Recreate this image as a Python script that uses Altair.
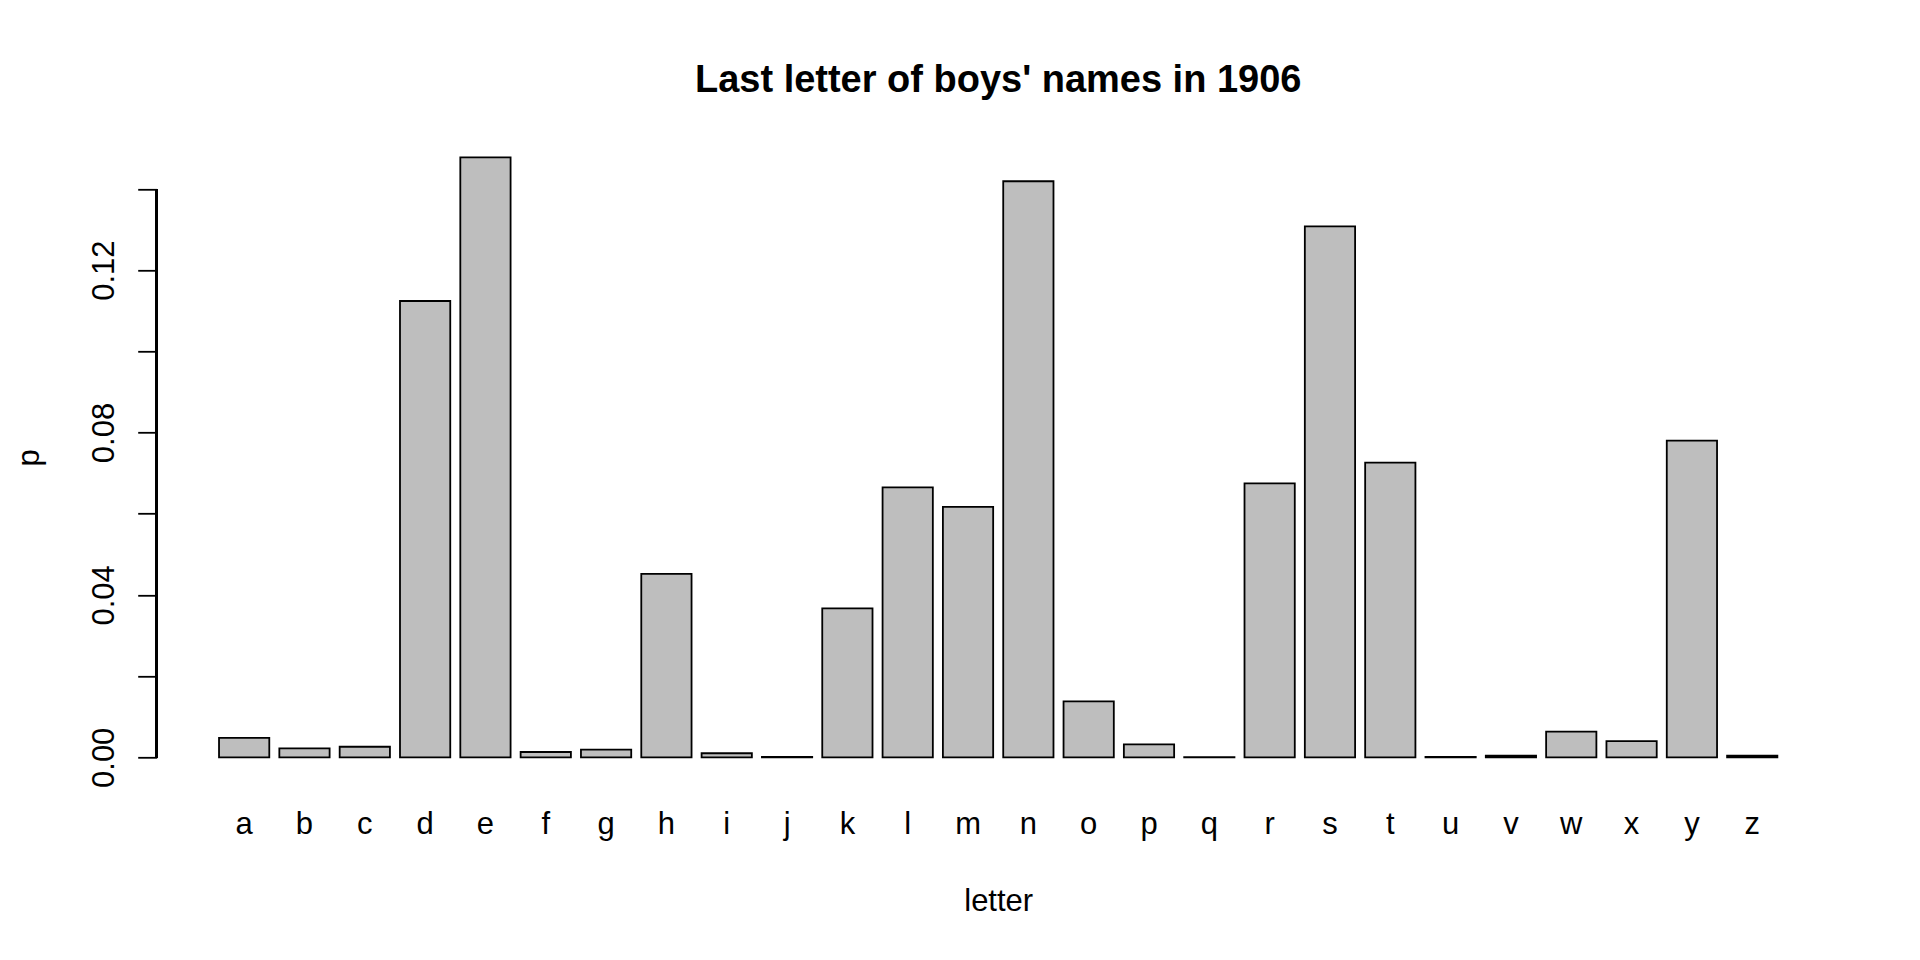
import altair as alt
import pandas as pd

letters = list("abcdefghijklmnopqrstuvwxyz")
p_values = [0.0048, 0.0022, 0.0026, 0.1124, 0.1478, 0.0013, 0.0019, 0.0452,
            0.0010, 0.0001, 0.0367, 0.0665, 0.0617, 0.1419, 0.0138, 0.0032,
            0.00005, 0.0675, 0.1308, 0.0726, 0.0001, 0.0004, 0.0063, 0.0040,
            0.0780, 0.0004]
y_ticks = [0.0, 0.02, 0.04, 0.06, 0.08, 0.10, 0.12, 0.14]
title_text = "Last letter of boys' names in 1906"

df = pd.DataFrame({"letter": letters, "p": p_values})

ymax = max(p_values)
yscale = alt.Scale(domain=[-0.04 * ymax, 1.04 * ymax], nice=False, zero=False)
FONT = "Liberation Sans"
PLOT_W = 1679
PLOT_H = 648

bars = alt.Chart(df).mark_bar(
    fill="#BEBEBE", stroke="black", strokeWidth=1.8
).encode(
    x=alt.X("letter:N", sort=letters,
            scale=alt.Scale(paddingInner=0.2 / 1.2, paddingOuter=1),
            axis=alt.Axis(title="letter", domain=False, ticks=False, tickSize=0,
                          labelAngle=0, labelFont=FONT, labelFontSize=31,
                          labelColor="black", labelBaseline="alphabetic",
                          labelPadding=52, labelFlush=False, labelOverlap=False,
                          titleFont=FONT, titleFontSize=31, titleFontWeight="normal",
                          titleColor="black", titleBaseline="alphabetic",
                          titleAlign="center", titleX=PLOT_W / 2, titleY=129)),
    y=alt.Y("p:Q", scale=yscale,
            axis=alt.Axis(title="p", domain=False, values=y_ticks, offset=2,
                          tickSize=19, tickWidth=1.8, tickColor="black",
                          labelExpr="round(datum.value*50) % 2 == 0 ? format(datum.value, '.2f') : ''",
                          labelAngle=-90, labelAlign="center",
                          labelBaseline="alphabetic", labelPadding=24,
                          labelFont=FONT, labelFontSize=31, labelColor="black",
                          labelOverlap=False, labelFlush=False, grid=False,
                          titleFont=FONT, titleFontSize=31, titleFontWeight="normal",
                          titleColor="black", titleAngle=-90, titleAlign="center",
                          titleBaseline="alphabetic", titleX=-118.5, titleY=324)),
    y2=alt.datum(0),
)

axis_line = alt.Chart(df).mark_rule(color="black", strokeWidth=1.8).encode(
    x=alt.value(-2),
    y=alt.datum(y_ticks[0]),
    y2=alt.datum(y_ticks[-1]),
)

chart = alt.layer(bars, axis_line).properties(
    width=PLOT_W,
    height=PLOT_H,
    background="white",
    title=alt.TitleParams(title_text, font=FONT, fontSize=38, fontWeight="bold",
                          color="black", anchor="middle", baseline="alphabetic",
                          offset=3),
    autosize=alt.AutoSizeParams(type="none"),
    padding={"left": 150.7, "top": 125.3, "right": 60, "bottom": 150},
).configure_view(stroke=None, strokeWidth=0)

chart.save("out.html", embed_options={"renderer": "svg", "actions": False})
